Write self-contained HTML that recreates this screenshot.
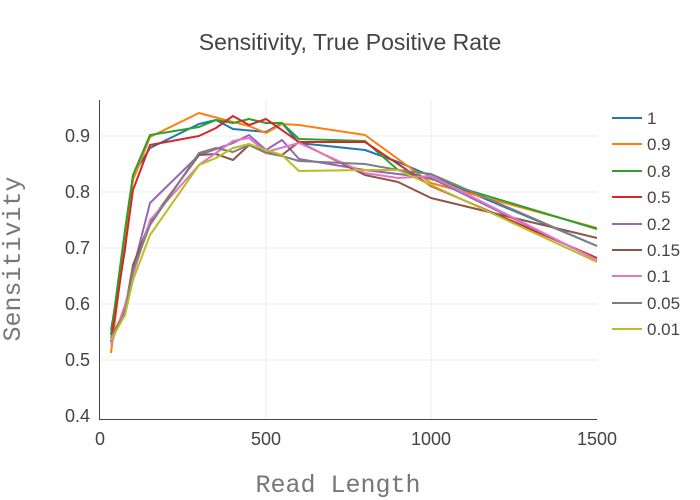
<!DOCTYPE html>
<html><head><meta charset="utf-8"><style>body{margin:0;background:#fff}svg{display:block}</style></head><body>
<svg width="700" height="500" xmlns="http://www.w3.org/2000/svg" font-family="'Liberation Sans',sans-serif">
<rect width="700" height="500" fill="#fff"/>
<g stroke="#eee" stroke-width="1">
<line x1="100" x2="597" y1="360" y2="360"/><line x1="100" x2="597" y1="304" y2="304"/><line x1="100" x2="597" y1="248" y2="248"/><line x1="100" x2="597" y1="192" y2="192"/><line x1="100" x2="597" y1="136" y2="136"/>
<line x1="266" x2="266" y1="100" y2="420"/><line x1="431" x2="431" y1="100" y2="420"/>
</g>
<line x1="100" x2="597" y1="419.5" y2="419.5" stroke="#444"/>
<line x1="99.5" x2="99.5" y1="100" y2="420" stroke="#444"/>
<g fill="none" stroke-width="2" stroke-linejoin="round">
<polyline stroke="#1f77b4" points="111,330 125,250 133,175 150,148 199,124 216,120 233,129 266,132 282,123 299,143 365,150 398,162 431,176 597,246"/>
<polyline stroke="#ff7f0e" points="111,353 125,240 133,180 150,137 199,113 233,122 249,126 266,133 282,124 299,125 365,135 431,183 597,228"/>
<polyline stroke="#2ca02c" points="111,335 125,230 133,175 150,135 199,127 216,120 233,123 249,119 266,123 282,123 299,139 365,141 398,170 431,179 597,229"/>
<polyline stroke="#d62728" points="111,342 125,248 133,190 150,145 199,136 216,128 233,116 249,125 266,119 299,142 365,142 431,186 597,258"/>
<polyline stroke="#9467bd" points="111,342 125,310 133,270 150,203 199,155 233,143 249,135 266,150 282,140 299,159 365,170 431,178 597,260"/>
<polyline stroke="#8c564b" points="111,338 125,310 133,265 150,222 199,155 216,154 233,160 249,145 266,152 282,155 299,142 365,175 398,182 431,198 597,238"/>
<polyline stroke="#e377c2" points="111,345 125,305 133,275 150,220 199,165 233,141 249,138 266,152 299,143 365,173 398,178 431,176 597,260"/>
<polyline stroke="#7f7f7f" points="111,337 125,313 133,270 150,225 199,153 216,148 233,152 249,145 266,153 282,156 299,161 365,164 398,170 431,174 597,246"/>
<polyline stroke="#bcbd22" points="111,340 125,315 133,280 150,235 199,165 216,158 233,148 249,144 266,150 282,155 299,171 365,170 398,170 431,185 597,262"/>
</g>
<g font-size="18" fill="#444" text-anchor="end">
<text x="90" y="422">0.4</text><text x="90" y="366">0.5</text><text x="90" y="310">0.6</text><text x="90" y="254">0.7</text><text x="90" y="198">0.8</text><text x="90" y="142">0.9</text>
</g>
<g font-size="18" fill="#444" text-anchor="middle">
<text x="100" y="445">0</text><text x="266" y="445">500</text><text x="431" y="445">1000</text><text x="597" y="445">1500</text>
</g>
<text x="350" y="50" font-size="23" fill="#444" text-anchor="middle">Sensitivity, True Positive Rate</text>
<text x="338" y="492" font-size="25" fill="#777" text-anchor="middle" font-family="'Liberation Mono',monospace">Read Length</text>
<text transform="translate(20,259) rotate(-90)" font-size="25" fill="#777" text-anchor="middle" font-family="'Liberation Mono',monospace">Sensitivity</text>
<g stroke-width="2">
<line x1="612" x2="642" y1="118" y2="118" stroke="#1f77b4"/><line x1="612" x2="642" y1="144" y2="144" stroke="#ff7f0e"/><line x1="612" x2="642" y1="171" y2="171" stroke="#2ca02c"/><line x1="612" x2="642" y1="197" y2="197" stroke="#d62728"/><line x1="612" x2="642" y1="224" y2="224" stroke="#9467bd"/><line x1="612" x2="642" y1="250" y2="250" stroke="#8c564b"/><line x1="612" x2="642" y1="276" y2="276" stroke="#e377c2"/><line x1="612" x2="642" y1="303" y2="303" stroke="#7f7f7f"/><line x1="612" x2="642" y1="329" y2="329" stroke="#bcbd22"/>
</g>
<g font-size="17" fill="#444">
<text x="647" y="124">1</text><text x="647" y="150">0.9</text><text x="647" y="177">0.8</text><text x="647" y="203">0.5</text><text x="647" y="230">0.2</text><text x="647" y="256">0.15</text><text x="647" y="282">0.1</text><text x="647" y="309">0.05</text><text x="647" y="335">0.01</text>
</g>
</svg>
</body></html>
